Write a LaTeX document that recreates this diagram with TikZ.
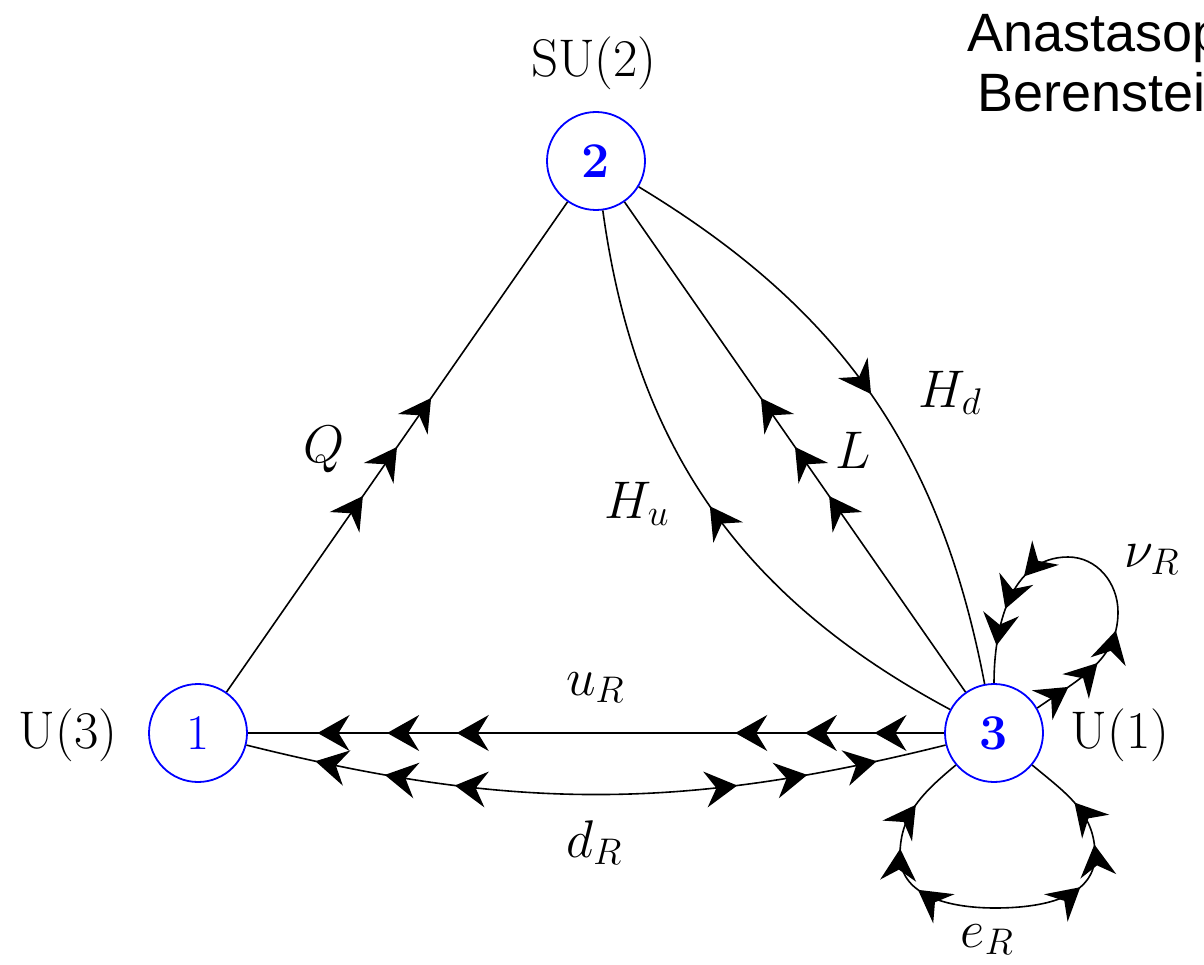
\RequirePackage{fix-cm}
\documentclass[tikz,border=0pt]{standalone}
\usepackage[no-math]{fontspec}
\newfontfamily\hel{Liberation Sans}
\usetikzlibrary{arrows.meta,decorations.markings}
\tikzset{
  ST/.tip={Stealth[length=32pt,width=36pt,inset=11pt]},
  vtx/.style={circle, draw=blue, line width=1.8pt, minimum size=98pt, inner sep=0pt,
    text=blue, font=\fontsize{50}{56}\selectfont},
  lbl/.style={font=\fontsize{53}{60}\selectfont, inner sep=0pt, anchor=base},
  edge/.style={line width=1.6pt},
  tri/.style={postaction={decorate,decoration={markings,
    mark=at position 0.4 with {\arrow{ST}},
    mark=at position 0.5 with {\arrow{ST}},
    mark=at position 0.6 with {\arrow{ST}}}}},
  six/.style={postaction={decorate,decoration={markings,
    mark=at position 0.1 with {\arrow{ST}},
    mark=at position 0.2 with {\arrow{ST}},
    mark=at position 0.3 with {\arrow{ST}},
    mark=at position 0.7 with {\arrow{ST}},
    mark=at position 0.8 with {\arrow{ST}},
    mark=at position 0.9 with {\arrow{ST}}}}},
  outsixd/.style={postaction={decorate,decoration={markings,
    mark=at position 0.1 with {\arrowreversed{ST}},
    mark=at position 0.2 with {\arrowreversed{ST}},
    mark=at position 0.3 with {\arrowreversed{ST}},
    mark=at position 0.7 with {\arrow{ST}},
    mark=at position 0.8 with {\arrow{ST}},
    mark=at position 0.9 with {\arrow{ST}}}}},
  outsixe/.style={postaction={decorate,decoration={markings,
    mark=at position 0.12 with {\arrowreversed{ST}},
    mark=at position 0.22 with {\arrowreversed{ST}},
    mark=at position 0.32 with {\arrowreversed{ST}},
    mark=at position 0.68 with {\arrow{ST}},
    mark=at position 0.78 with {\arrow{ST}},
    mark=at position 0.88 with {\arrow{ST}}}}},
  onef/.style={postaction={decorate,decoration={markings,
    mark=at position #1 with {\arrow{ST}}}}},
  oner/.style={postaction={decorate,decoration={markings,
    mark=at position #1 with {\arrowreversed{ST}}}}},
}
\begin{document}
\begin{tikzpicture}[x=1pt,y=1pt]
\clip (0,0) rectangle (1204,-965);
\useasboundingbox (0,0) rectangle (1204,-965);

% vertices
\node[vtx] (n1) at (198,-733) {$1$};
\node[vtx] (n2) at (596,-161) {$\mathbf{2}$};
\node[vtx] (n3) at (994,-733) {$\mathbf{3}$};

% group labels
\node[lbl] (g1) at (68,-748) {$\mathrm{U}(3)$};
\node[lbl] (g2) at (594,-77) {$\mathrm{SU}(2)$};
\node[lbl] (g3) at (1120,-748) {$\mathrm{U}(1)$};

% edges
\draw[edge,tri] (n1) -- (n2);
\draw[edge,tri] (n3) -- (n2);
\draw[edge,oner=0.5] (n2) to[bend right=27] (n3);
\draw[edge,onef=0.5] (n2) to[bend left=24] (n3);
\draw[edge,six] (n3) -- (n1);
\draw[edge,outsixd] (n1) to[bend right=14] (n3);

% nu_R loop
\coordinate (nr1) at (1118,-612);
\coordinate (nr2) at (1068,-557);
\draw[edge,six] (n3.30) to[out=35,in=-90] (nr1) to[out=90,in=0] (nr2)
  to[out=180,in=90] (n3.90);

% e_R loop
\coordinate (er1) at (900,-855);
\coordinate (er2) at (995,-908);
\coordinate (er3) at (1095,-855);
\draw[edge,outsixe] (n3.-140) to[out=-140,in=90] (er1) to[out=-90,in=180] (er2)
  to[out=0,in=-90] (er3) to[out=90,in=-40] (n3.-40);

% field labels
\node[lbl] (lQ) at (324,-462) {$Q$};
\node[lbl] (lHu) at (637,-518) {$H_u$};
\node[lbl] (lL) at (853,-468) {$L$};
\node[lbl] (lHd) at (950,-407) {$H_d$};
\node[lbl] (luR) at (595,-695) {$u_R$};
\node[lbl] (ldR) at (594,-857) {$d_R$};
\node[lbl] (lnR) at (1152,-567) {$\nu_R$};
\node[lbl] (leR) at (987,-947) {$e_R$};

% cut-off caption
\node[font=\hel\fontsize{54}{60}\selectfont, inner sep=0pt, anchor=base west] (c1) at (967,-52) {Anastasop};
\node[font=\hel\fontsize{54}{60}\selectfont, inner sep=0pt, anchor=base west] (c2) at (977,-112) {Berenstein};
\end{tikzpicture}
\end{document}
